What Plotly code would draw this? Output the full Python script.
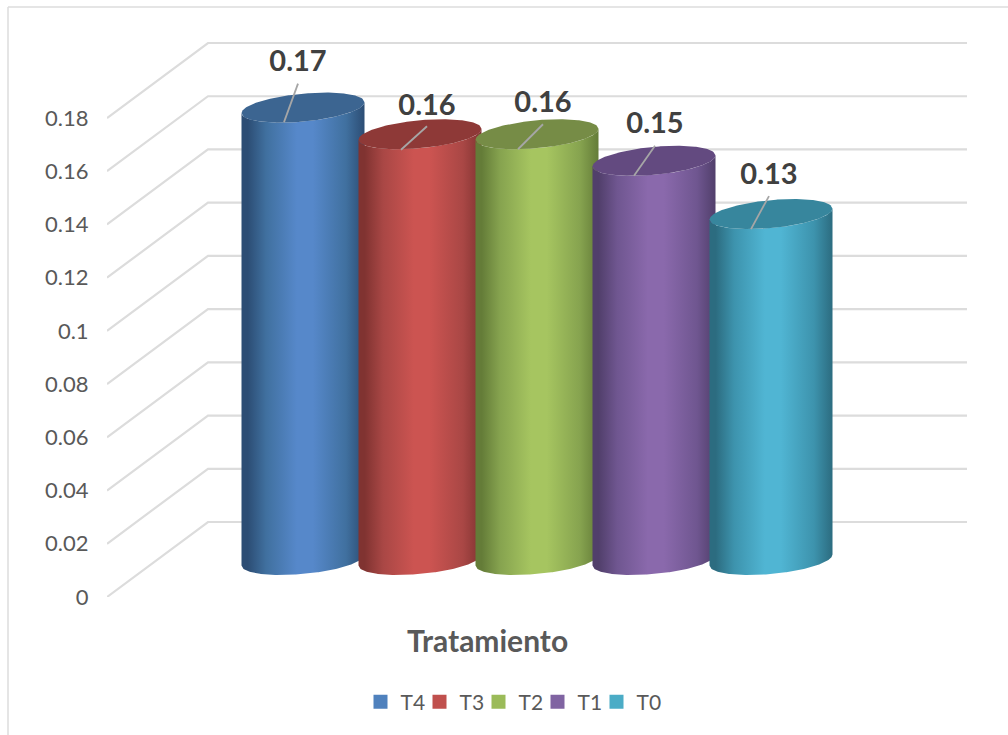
import numpy as np
import plotly.graph_objects as go

# ---- data ----
categories = ["T4", "T3", "T2", "T1", "T0"]
values = [0.17, 0.16, 0.16, 0.15, 0.13]
value_labels = ["0.17", "0.16", "0.16", "0.15", "0.13"]
y_ticks = [0, 0.02, 0.04, 0.06, 0.08, 0.1, 0.12, 0.14, 0.16, 0.18]
y_tick_labels = ["0", "0.02", "0.04", "0.06", "0.08", "0.1", "0.12", "0.14", "0.16", "0.18"]

# ---- styling ----
base_colors = ["#4f81bd", "#c0504d", "#9bbb59", "#8064a2", "#4bacc6"]
peak_colors = ["#5688ca", "#cc5451", "#a6c560", "#8a69ac", "#50b5d3"]
dark_colors = ["#2c4d74", "#803331", "#647c38", "#513f6b", "#2c6c80"]
mid_colors = ["#40709f", "#a94745", "#86a34f", "#6f5690", "#3d93ad"]
top_colors = ["#3c6591", "#8e3937", "#768c46", "#634a80", "#37869d"]
GRID = "#dcdcdc"
L, R, T, B = 107, 1000, 10, 597           # plot area in page pixels
PX_PER_VALUE = 2661.0                     # pixels per unit of value
PX_PER_CAT = 117.0                        # pixels per category
X0_PX = 303.0                             # page pixel of the first category
DEPTH_X, DEPTH_Y = 101.0, 75.0            # wall offset of the floor/grid
BASE_DEPTH = 37.0 / PX_PER_VALUE          # floor height of the cylinders
HALF_W = 61.5 / PX_PER_CAT
B_PX, SHEAR_PX = 14.0, 5.5                # ellipse minor axis and tilt
# leader: pixel offsets from the centre of the top ellipse (bottom dx, bottom dy, top dx, top dy)
leaders = [(-19, 14.5, -5, -24), (-19, 15.5, 7, -8), (-19, 15, 6, -10), (-20, 15, 1, -15), (-20, 15, -2, -18)]
label_gap = [20, 18, 19, 20, 19]


def dx(px):
    return px / PX_PER_CAT


def dy(px):
    return px / PX_PER_VALUE


fig = go.Figure()
x_left = (L - X0_PX) / PX_PER_CAT
x_right = (R - X0_PX) / PX_PER_CAT

# 3D-looking gridlines: front edge, diagonal to the back wall, along the wall
wall_right = (967 - X0_PX) / PX_PER_CAT
gx, gy = [], []
for v in y_ticks:
    gx += [x_left, x_left + dx(DEPTH_X), wall_right, None]
    gy += [v, v + dy(DEPTH_Y), v + dy(DEPTH_Y), None]
fig.add_trace(go.Scatter(x=gx, y=gy, mode="lines", line=dict(color=GRID, width=2.2),
                         showlegend=False, hoverinfo="skip"))

t = np.linspace(-1, 1, 121)
round_part = np.sqrt(1 - t ** 2)
for i, (name, v) in enumerate(zip(categories, values)):
    xs = i + HALF_W * t
    floor = BASE_DEPTH
    level = floor + v
    front = -dy(B_PX) * round_part + dy(SHEAR_PX) * t
    back = dy(B_PX) * round_part + dy(SHEAR_PX) * t
    # body with cylinder shading
    fig.add_trace(go.Scatter(
        x=np.r_[xs, xs[::-1]], y=np.r_[floor + front, (level + front)[::-1]],
        mode="lines", fill="toself", line=dict(width=0, color=base_colors[i]),
        fillgradient=dict(type="horizontal", start=i - HALF_W, stop=i + HALF_W,
                          colorscale=[[0, dark_colors[i]], [0.05, dark_colors[i]], [0.2, mid_colors[i]],
                                      [0.45, peak_colors[i]], [0.58, peak_colors[i]],
                                      [0.85, mid_colors[i]], [1, dark_colors[i]]]),
        showlegend=False, hoverinfo="skip"))
    # top ellipse
    fig.add_trace(go.Scatter(
        x=np.r_[xs, xs[::-1]], y=np.r_[level + front, (level + back)[::-1]],
        mode="lines", fill="toself", fillcolor=top_colors[i],
        line=dict(width=0, color=top_colors[i]), showlegend=False, hoverinfo="skip"))
    # leader line
    bx, by, ex, ey = leaders[i]
    fig.add_trace(go.Scatter(x=[i + dx(bx), i + dx(ex)], y=[level - dy(by), level - dy(ey)], mode="lines",
                             line=dict(color="#a6a6a6", width=1.8), showlegend=False, hoverinfo="skip"))
    # value label
    fig.add_trace(go.Scatter(x=[i + dx(ex)], y=[level - dy(ey) + dy(label_gap[i])], mode="text",
                             text=[value_labels[i]], textposition="middle center",
                             textfont=dict(family="Lato, Carlito, sans-serif", size=29, color="#404040", weight="bold"),
                             showlegend=False, hoverinfo="skip"))

# legend entries
for name, c in zip(categories, base_colors):
    fig.add_trace(go.Scatter(x=[None], y=[None], mode="markers", name=name,
                             marker=dict(symbol="square", size=14, color=c)))
# blank spacer entry: keeps the last label from being clipped at the tight entry width
fig.add_trace(go.Scatter(x=[None], y=[None], mode="markers", name="\u00a0",
                         marker=dict(symbol="square", size=14, color="rgba(0,0,0,0)")))

fig.update_layout(
    width=1008, height=735, autosize=False,
    margin=dict(l=L, r=1008 - R, t=T, b=735 - B, autoexpand=False),
    paper_bgcolor="white", plot_bgcolor="white",
    font=dict(family="Lato, Carlito, sans-serif", color="#595959", size=22),
    xaxis=dict(range=[x_left, x_right], showgrid=False, zeroline=False, showline=False,
               showticklabels=False, ticks=""),
    yaxis=dict(range=[0, (B - T) / PX_PER_VALUE], tickmode="array", tickvals=y_ticks, ticktext=y_tick_labels,
               showgrid=False, zeroline=False, showline=False, ticks="outside", ticklen=13,
               tickcolor="rgba(0,0,0,0)", tickfont=dict(size=22, color="#595959")),
    legend=dict(orientation="h", x=(537.5 - L) / (R - L), xanchor="center", y=(B - 702) / (B - T), yanchor="middle",
                font=dict(size=21, color="#595959"), bgcolor="rgba(0,0,0,0)",
                entrywidth=14, entrywidthmode="pixels", itemwidth=30),
    annotations=[dict(text="<b>Tratamiento</b>", xref="paper", yref="paper",
                      x=(487 - L) / (R - L), y=(B - 640) / (B - T), xanchor="center", yanchor="middle",
                      showarrow=False, font=dict(size=30, color="#595959"))],
    shapes=[dict(type="line", xref="paper", yref="paper", x0=(8 - L) / (R - L), x1=(1008 - L) / (R - L),
                 y0=(B - 7) / (B - T), y1=(B - 7) / (B - T), line=dict(color=GRID, width=1.5)),
            dict(type="line", xref="paper", yref="paper", x0=(8 - L) / (R - L), x1=(8 - L) / (R - L),
                 y0=(B - 7) / (B - T), y1=(B - 735) / (B - T), line=dict(color=GRID, width=1.5))],
)

fig.write_html("out.html", config={"displayModeBar": False},
               post_script="document.body.style.margin='0';")
